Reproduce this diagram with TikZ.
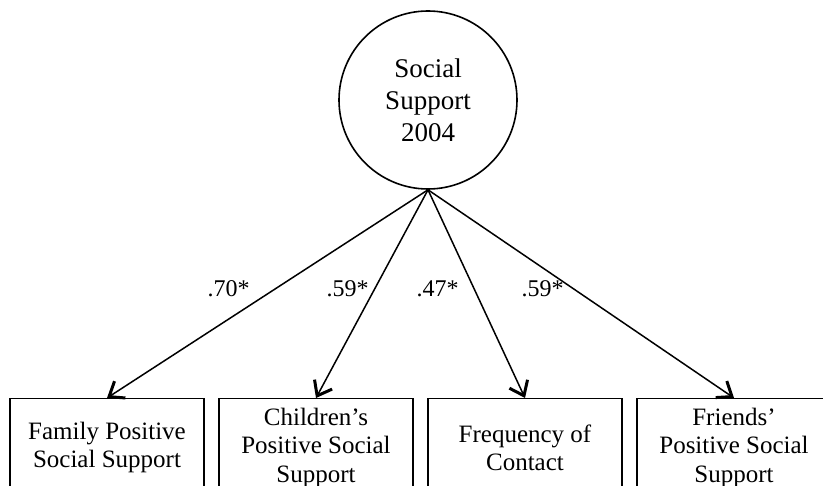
\documentclass[tikz,border=0pt]{standalone}
\usepackage{fontspec}
\setmainfont{Liberation Serif}
\usetikzlibrary{arrows.meta}
\begin{document}
\begin{tikzpicture}[x=1pt,y=-1pt,
  latent/.style={draw, circle, line width=1.6pt, minimum size=178pt, inner sep=0pt,
    align=center, font=\fontsize{27}{32}\selectfont},
  indicator/.style={draw, rectangle, line width=1.3pt, minimum width=194pt,
    minimum height=98pt, inner sep=0pt, anchor=north, align=center,
    font=\fontsize{25}{28.5}\selectfont},
  loading/.style={anchor=base, inner sep=0pt, font=\fontsize{24}{28}\selectfont},
  path/.style={line width=1.5pt,
    -{Straight Barb[length=13pt,width=20pt,line width=3pt]}}]
  \useasboundingbox (0,0) rectangle (823,486);
  \clip (0,0) rectangle (823,486);

  % latent factor
  \node[latent] (ss) at (428,100) {Social\\Support\\2004};

  % observed indicators
  \node[indicator] (fam) at (107,398) {Family Positive\\Social Support};
  \node[indicator] (chi) at (316,398) {Children’s\\Positive Social\\Support};
  \node[indicator] (fre) at (525,398) {Frequency of\\Contact};
  \node[indicator] (fri) at (734,398) {Friends’\\Positive Social\\Support};

  % factor loadings
  \draw[path] (ss.south) -- (fam.north);
  \draw[path] (ss.south) -- (chi.north);
  \draw[path] (ss.south) -- (fre.north);
  \draw[path] (ss.south) -- (fri.north);

  \node[loading] (l1) at (228.5,297) {.70*};
  \node[loading] (l2) at (347.5,297) {.59*};
  \node[loading] (l3) at (437.5,297) {.47*};
  \node[loading] (l4) at (542.5,297) {.59*};
\end{tikzpicture}
\end{document}
